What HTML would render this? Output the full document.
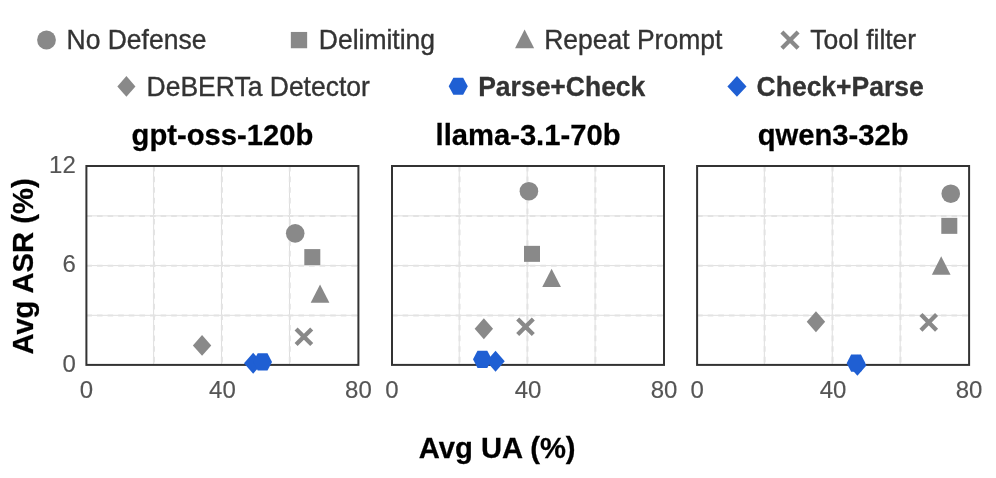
<!DOCTYPE html>
<html lang="en">
<head>
<meta charset="utf-8">
<title>Avg ASR vs Avg UA</title>
<style>
html,body{margin:0;padding:0;background:#fff;}
body{width:996px;height:478px;overflow:hidden;}
svg{display:block;}
text{font-family:"Liberation Sans",Arial,Helvetica,sans-serif;}
.lg{font-size:26.5px;fill:#333333;stroke:#333333;stroke-width:0.35px;}
.lgb{font-size:26.5px;font-weight:bold;fill:#333333;stroke:#333333;stroke-width:0.3px;}
.ttl{font-size:29.2px;font-weight:bold;fill:#000;stroke:#000;stroke-width:0.25px;text-anchor:middle;}
.axl{font-size:29.2px;font-weight:bold;fill:#000;stroke:#000;stroke-width:0.25px;text-anchor:middle;}
.tk{font-size:24px;fill:#555555;stroke:#555555;stroke-width:0.15px;}
.tx{text-anchor:middle;}
.ty{text-anchor:end;}
</style>
</head>
<body>
<svg width="996" height="478" viewBox="0 0 996 478">
<rect x="0" y="0" width="996" height="478" fill="#ffffff"/>
<g id="legend">
<circle cx="46.50" cy="40.00" r="9.4" fill="#898989"/>
<text class="lg" transform="translate(66.5 49.4) scale(1 1.02)">No Defense</text>
<rect x="290.85" y="31.95" width="16.3" height="16.3" fill="#898989"/>
<text class="lg" transform="translate(318.8 49.4) scale(1 1.02)">Delimiting</text>
<polygon points="524.60,29.55 515.05,48.15 534.15,48.15" fill="#898989"/>
<text class="lg" transform="translate(544.2 49.4) scale(1 1.02)">Repeat Prompt</text>
<path d="M781.90,32.00L798.10,48.20M781.90,48.20L798.10,32.00" stroke="#898989" stroke-width="4.3" fill="none"/>
<text class="lg" transform="translate(810.2 49.4) scale(1 1.02)">Tool filter</text>
<polygon points="126.40,76.00 135.45,86.40 126.40,96.80 117.35,86.40" fill="#898989"/>
<text class="lg" transform="translate(146.6 95.8) scale(1 1.02)">DeBERTa Detector</text>
<polygon points="448.70,86.30 453.35,77.80 463.15,77.80 467.80,86.30 463.15,94.80 453.35,94.80" fill="#1f5fd3"/>
<text class="lgb" transform="translate(478.2 95.8) scale(1 1.02)">Parse+Check</text>
<polygon points="736.95,76.00 746.50,86.40 736.95,96.80 727.40,86.40" fill="#1f5fd3"/>
<text class="lgb" transform="translate(756.6 95.8) scale(1 1.02)">Check+Parse</text>
</g>
<g id="plot1">
<text class="ttl" transform="translate(222.4 145.3) scale(1 1.02)">gpt-oss-120b</text>
<path d="M153.63,166.0V364.9M221.56,166.0V364.9M289.49,166.0V364.9M86.4,315.32H358.4M86.4,265.60H358.4M86.4,215.88H358.4" stroke="#dedede" stroke-width="1" fill="none"/>
<path d="M153.93,166.0V364.9M221.86,166.0V364.9M289.79,166.0V364.9M86.4,315.52H358.4M86.4,265.80H358.4M86.4,216.07H358.4" stroke="#e3e3e3" stroke-width="2" stroke-dasharray="5.6 5" fill="none"/>
<circle cx="295.20" cy="233.35" r="9.3" fill="#898989"/>
<rect x="304.30" y="249.10" width="16.0" height="16.0" fill="#898989"/>
<polygon points="320.05,284.40 310.70,302.80 329.40,302.80" fill="#898989"/>
<path d="M296.10,328.90L311.70,344.50M296.10,344.50L311.70,328.90" stroke="#898989" stroke-width="4.3" fill="none"/>
<polygon points="202.07,334.95 211.27,345.40 202.07,355.85 192.87,345.40" fill="#898989"/>
<rect x="86.4" y="166.0" width="272.0" height="198.9" fill="none" stroke="#333333" stroke-width="2"/>
<polygon points="253.15,352.85 262.35,363.30 253.15,373.75 243.95,363.30" fill="#1f5fd3"/>
<polygon points="253.20,361.90 257.70,353.20 267.50,353.20 272.00,361.90 267.50,370.60 257.70,370.60" fill="#1f5fd3"/>
<text class="tk tx" transform="translate(86.4 398.3) scale(1 1.02)">0</text>
<text class="tk tx" transform="translate(222.4 398.3) scale(1 1.02)">40</text>
<text class="tk tx" transform="translate(358.4 398.3) scale(1 1.02)">80</text>
</g>
<g id="plot2">
<text class="ttl" transform="translate(528.0 145.3) scale(1 1.02)">llama-3.1-70b</text>
<path d="M459.23,166.0V364.9M527.16,166.0V364.9M595.09,166.0V364.9M392.0,315.32H664.0M392.0,265.60H664.0M392.0,215.88H664.0" stroke="#dedede" stroke-width="1" fill="none"/>
<path d="M459.53,166.0V364.9M527.46,166.0V364.9M595.39,166.0V364.9M392.0,315.52H664.0M392.0,265.80H664.0M392.0,216.07H664.0" stroke="#e3e3e3" stroke-width="2" stroke-dasharray="5.6 5" fill="none"/>
<circle cx="528.90" cy="191.20" r="9.3" fill="#898989"/>
<rect x="524.00" y="245.85" width="16.0" height="16.0" fill="#898989"/>
<polygon points="551.60,268.70 542.25,287.10 560.95,287.10" fill="#898989"/>
<path d="M517.70,319.00L533.30,334.60M517.70,334.60L533.30,319.00" stroke="#898989" stroke-width="4.3" fill="none"/>
<polygon points="483.85,318.25 493.05,328.70 483.85,339.15 474.65,328.70" fill="#898989"/>
<rect x="392.0" y="166.0" width="272.0" height="198.9" fill="none" stroke="#333333" stroke-width="2"/>
<polygon points="495.55,350.85 504.75,361.30 495.55,371.75 486.35,361.30" fill="#1f5fd3"/>
<polygon points="473.00,359.35 477.50,350.65 487.30,350.65 491.80,359.35 487.30,368.05 477.50,368.05" fill="#1f5fd3"/>
<text class="tk tx" transform="translate(392.0 398.3) scale(1 1.02)">0</text>
<text class="tk tx" transform="translate(528.0 398.3) scale(1 1.02)">40</text>
<text class="tk tx" transform="translate(664.0 398.3) scale(1 1.02)">80</text>
</g>
<g id="plot3">
<text class="ttl" transform="translate(833.1 145.3) scale(1 1.02)">qwen3-32b</text>
<path d="M764.33,166.0V364.9M832.26,166.0V364.9M900.19,166.0V364.9M697.1,315.32H969.1M697.1,265.60H969.1M697.1,215.88H969.1" stroke="#dedede" stroke-width="1" fill="none"/>
<path d="M764.63,166.0V364.9M832.56,166.0V364.9M900.49,166.0V364.9M697.1,315.52H969.1M697.1,265.80H969.1M697.1,216.07H969.1" stroke="#e3e3e3" stroke-width="2" stroke-dasharray="5.6 5" fill="none"/>
<circle cx="950.75" cy="193.70" r="9.3" fill="#898989"/>
<rect x="941.30" y="217.85" width="16.0" height="16.0" fill="#898989"/>
<polygon points="941.20,256.30 931.85,274.70 950.55,274.70" fill="#898989"/>
<path d="M920.95,314.60L936.55,330.20M920.95,330.20L936.55,314.60" stroke="#898989" stroke-width="4.3" fill="none"/>
<polygon points="815.95,311.30 825.15,321.75 815.95,332.20 806.75,321.75" fill="#898989"/>
<rect x="697.1" y="166.0" width="272.0" height="198.9" fill="none" stroke="#333333" stroke-width="2"/>
<polygon points="857.40,354.85 866.60,365.30 857.40,375.75 848.20,365.30" fill="#1f5fd3"/>
<polygon points="846.65,363.15 851.15,354.45 860.95,354.45 865.45,363.15 860.95,371.85 851.15,371.85" fill="#1f5fd3"/>
<text class="tk tx" transform="translate(697.1 398.3) scale(1 1.02)">0</text>
<text class="tk tx" transform="translate(833.1 398.3) scale(1 1.02)">40</text>
<text class="tk tx" transform="translate(969.1 398.3) scale(1 1.02)">80</text>
</g>
<text class="tk ty" transform="translate(75.8 371.9) scale(1 1.02)">0</text>
<text class="tk ty" transform="translate(75.8 272.4) scale(1 1.02)">6</text>
<text class="tk ty" transform="translate(75.8 173.0) scale(1 1.02)">12</text>
<text class="axl" transform="translate(33.0 266.5) rotate(-90) scale(1 1.02)">Avg ASR (%)</text>
<text class="axl" transform="translate(497.2 457.8) scale(1 1.02)">Avg UA (%)</text>
</svg>
</body>
</html>
